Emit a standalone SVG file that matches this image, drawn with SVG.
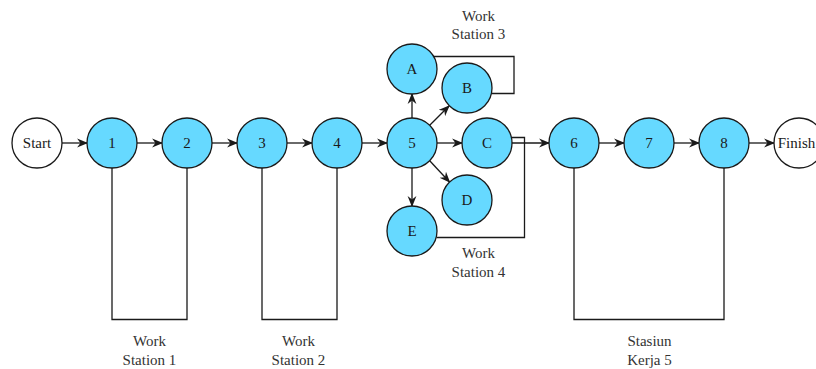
<svg xmlns="http://www.w3.org/2000/svg" width="816" height="369" viewBox="0 0 816 369">
<style>
.n{fill:#66d9ff;stroke:#1a1a1a;stroke-width:1.3}
.w{fill:#ffffff;stroke:#1a1a1a;stroke-width:1.3}
.t{font-family:"Liberation Serif","Times New Roman",serif;font-size:15px;fill:#1a1a1a;text-anchor:middle}
.l{font-family:"Liberation Serif","Times New Roman",serif;font-size:15px;fill:#333333;text-anchor:middle}
.c{fill:none;stroke:#1a1a1a;stroke-width:1.3}
.a{fill:none;stroke:#1a1a1a;stroke-width:1.3;marker-end:url(#ar)}
</style>
<defs>
<marker id="ar" viewBox="0 0 10 10" refX="9" refY="5" markerWidth="11" markerHeight="11" markerUnits="userSpaceOnUse" orient="auto">
<path d="M0,1 L10,5 L0,9 L3,5 z" fill="#1a1a1a"/>
</marker>
</defs>
<rect width="816" height="369" fill="#ffffff"/>
<g id="connectors">
<path class="a" d="M62,143 H87"/>
<path class="a" d="M137,143 H162"/>
<path class="a" d="M212,143 H237"/>
<path class="a" d="M287,143 H312"/>
<path class="a" d="M362,143 H387"/>
<path class="a" d="M437,143 H462"/>
<path class="a" d="M412,118 V94"/>
<path class="a" d="M429.7,125.3 L449,106"/>
<path class="a" d="M429.7,160.7 L449.5,182"/>
<path class="a" d="M412,168 V206"/>
<path class="a" d="M512,143 H549"/>
<path class="a" d="M599,143 H624"/>
<path class="a" d="M674,143 H699"/>
<path class="a" d="M749,143 H774"/>
<path class="c" d="M112,168 V319.5 H187 V168"/>
<path class="c" d="M262,168 V319.5 H337 V168"/>
<path class="c" d="M574,168 V319.5 H724 V168"/>
<path class="c" d="M433,56.5 H514 V93.5 H491.5"/>
<path class="c" d="M510,137.5 H524.5 V237.5 H436.5"/>
</g>
<g id="start"><circle class="w" cx="37" cy="143" r="25"/><text class="t" x="37" y="148">Start</text></g>
<g id="n1"><circle class="n" cx="112" cy="143" r="25"/><text class="t" x="112" y="148">1</text></g>
<g id="n2"><circle class="n" cx="187" cy="143" r="25"/><text class="t" x="187" y="148">2</text></g>
<g id="n3"><circle class="n" cx="262" cy="143" r="25"/><text class="t" x="262" y="148">3</text></g>
<g id="n4"><circle class="n" cx="337" cy="143" r="25"/><text class="t" x="337" y="148">4</text></g>
<g id="n5"><circle class="n" cx="412" cy="143" r="25"/><text class="t" x="412" y="148">5</text></g>
<g id="nA"><circle class="n" cx="412" cy="69" r="25"/><text class="t" x="412" y="74">A</text></g>
<g id="nB"><circle class="n" cx="467" cy="88" r="25"/><text class="t" x="467" y="93">B</text></g>
<g id="nC"><circle class="n" cx="487" cy="143" r="25"/><text class="t" x="487" y="148">C</text></g>
<g id="nD"><circle class="n" cx="467" cy="200" r="25"/><text class="t" x="467" y="205">D</text></g>
<g id="nE"><circle class="n" cx="412" cy="231" r="25"/><text class="t" x="412" y="236">E</text></g>
<g id="n6"><circle class="n" cx="574" cy="143" r="25"/><text class="t" x="574" y="148">6</text></g>
<g id="n7"><circle class="n" cx="649" cy="143" r="25"/><text class="t" x="649" y="148">7</text></g>
<g id="n8"><circle class="n" cx="724" cy="143" r="25"/><text class="t" x="724" y="148">8</text></g>
<g id="finish"><circle class="w" cx="799" cy="143" r="25"/><text class="t" x="796.5" y="148">Finish</text></g>
<g id="ws1"><text class="l" x="149.5" y="346">Work</text><text class="l" x="149.5" y="364.5">Station 1</text></g>
<g id="ws2"><text class="l" x="298.5" y="346">Work</text><text class="l" x="298.5" y="364.5">Station 2</text></g>
<g id="ws3"><text class="l" x="478.5" y="20.5">Work</text><text class="l" x="478.5" y="38.5">Station 3</text></g>
<g id="ws4"><text class="l" x="478.5" y="258">Work</text><text class="l" x="478.5" y="276.5">Station 4</text></g>
<g id="ws5"><text class="l" x="649.5" y="346">Stasiun</text><text class="l" x="649.5" y="364.5">Kerja 5</text></g>
</svg>
